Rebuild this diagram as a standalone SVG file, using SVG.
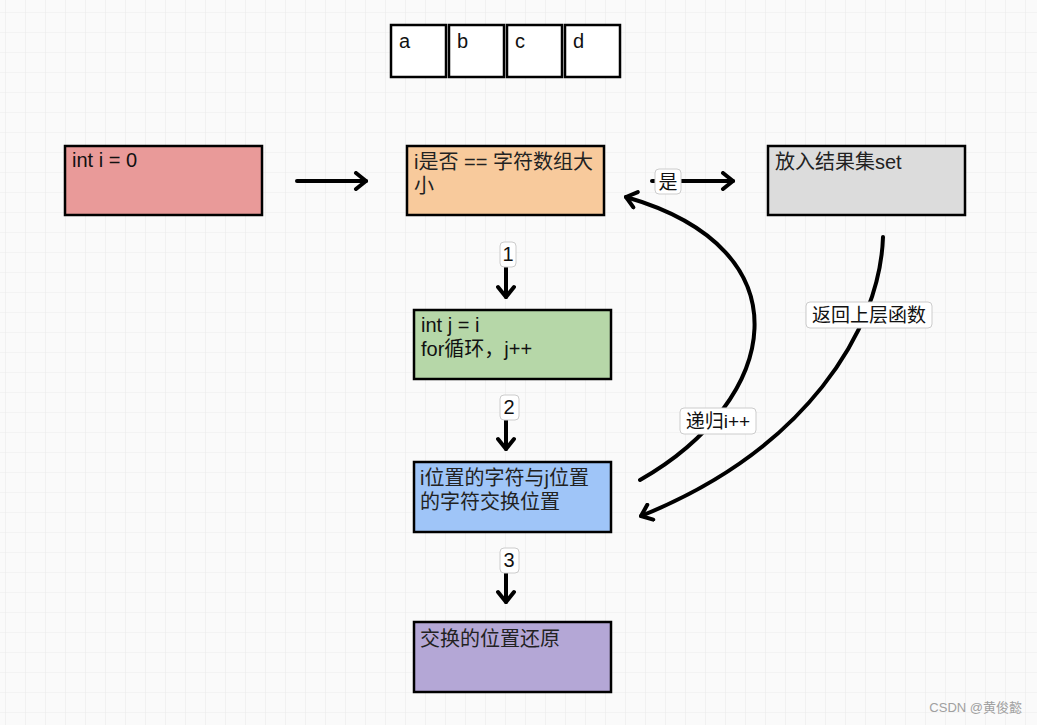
<svg xmlns="http://www.w3.org/2000/svg" width="1037" height="725" viewBox="0 0 1037 725">
<defs>
<pattern id="grid" width="20" height="20" patternUnits="userSpaceOnUse" x="5" y="12">
<rect width="20" height="20" fill="#fafafa"/>
<path d="M0 0H20M0 0V20" stroke="#ececec" stroke-width="1.2" fill="none"/>
</pattern>
<marker id="ah" viewBox="0 0 20 20" refX="16" refY="10" markerWidth="20" markerHeight="20" markerUnits="userSpaceOnUse" orient="auto">
<path d="M6 2 L16 10 L6 18" fill="none" stroke="#000" stroke-width="4" stroke-linecap="round" stroke-linejoin="round"/>
</marker>
<style>
.box{stroke:#000;stroke-width:2.5}
.t{font-family:"Liberation Sans","Noto Sans CJK SC",sans-serif;font-size:20px;fill:#111}
.cj{font-family:"Liberation Sans","Noto Sans CJK SC",sans-serif;font-size:20px;fill:#222}
.lt{font-family:"Liberation Sans","Noto Sans CJK SC",sans-serif;font-size:19px;fill:#111}
.lb{fill:#fff;stroke:#ccc;stroke-width:1}
.c{fill:none;stroke:#000;stroke-width:4;stroke-linecap:round}
</style>
</defs>
<rect width="1037" height="725" fill="url(#grid)"/>

<g id="array">
<rect x="391" y="25" width="55" height="52" fill="#fff" class="box"/>
<rect x="449" y="25" width="55" height="52" fill="#fff" class="box"/>
<rect x="507" y="25" width="55" height="52" fill="#fff" class="box"/>
<rect x="565" y="25" width="55" height="52" fill="#fff" class="box"/>
<text class="t" x="399" y="48" font-size="18">a</text>
<text class="t" x="457" y="48" font-size="18">b</text>
<text class="t" x="515" y="48" font-size="18">c</text>
<text class="t" x="573" y="48" font-size="18">d</text>
</g>

<g id="node-init">
<rect x="65" y="146" width="197" height="69" fill="#e99a99" class="box"/>
<text class="t" x="72" y="167">int i = 0</text>
</g>

<g id="node-check">
<rect x="407" y="146" width="197" height="69" fill="#f8ca9c" class="box"/>
<text class="cj" x="414" y="169">i是否 == 字符数组大</text>
<text class="cj" x="414" y="193">小</text>
</g>

<g id="node-set">
<rect x="768" y="146" width="197" height="69" fill="#dcdcdc" class="box"/>
<text class="cj" x="775" y="169">放入结果集set</text>
</g>

<g id="node-loop">
<rect x="414" y="310" width="197" height="69" fill="#b6d7a8" class="box"/>
<text class="t" x="421" y="332">int j = i</text>
<text class="t" x="421" y="356">for循环，j++</text>
</g>

<g id="node-swap">
<rect x="414" y="462" width="197" height="70" fill="#9fc5f8" class="box"/>
<text class="cj" x="420" y="485">i位置的字符与j位置</text>
<text class="cj" x="420" y="509">的字符交换位置</text>
</g>

<g id="node-restore">
<rect x="414" y="622" width="197" height="70" fill="#b4a7d6" class="box"/>
<text class="cj" x="420" y="646">交换的位置还原</text>
</g>

<g id="connectors">
<line class="c" x1="297" y1="181" x2="366" y2="181" marker-end="url(#ah)"/>
<line class="c" x1="652" y1="181" x2="733" y2="181" marker-end="url(#ah)"/>
<line class="c" x1="506" y1="246" x2="506" y2="297" marker-end="url(#ah)"/>
<line class="c" x1="506" y1="398" x2="506" y2="449" marker-end="url(#ah)"/>
<line class="c" x1="506" y1="550" x2="506" y2="602" marker-end="url(#ah)"/>
<path class="c" d="M640 480 C780 400 810 250 626 197" marker-end="url(#ah)"/>
<path class="c" d="M883 237 C880 330 805 450 641 516" marker-end="url(#ah)"/>
<rect class="lb" x="655" y="169" width="26" height="25" rx="4"/>
<text class="lt" x="668" y="189" text-anchor="middle">是</text>
<rect class="lb" x="500" y="242" width="16" height="25" rx="4"/>
<text class="t" x="508" y="261" text-anchor="middle" font-size="18">1</text>
<rect class="lb" x="500" y="395" width="19" height="25" rx="4"/>
<text class="t" x="509" y="414" text-anchor="middle" font-size="18">2</text>
<rect class="lb" x="500" y="548" width="19" height="25" rx="4"/>
<text class="t" x="509" y="567" text-anchor="middle" font-size="18">3</text>
<rect class="lb" x="680" y="408" width="76" height="26" rx="4"/>
<text class="lt" x="718" y="428" text-anchor="middle">递归i++</text>
<rect class="lb" x="806" y="302" width="126" height="26" rx="4"/>
<text class="lt" x="869" y="322" text-anchor="middle">返回上层函数</text>
</g>

<text x="1022" y="712" text-anchor="end" font-family="'Liberation Sans','Noto Sans CJK SC',sans-serif" font-size="13" fill="#a0a0a0">CSDN @黄俊懿</text>
</svg>
